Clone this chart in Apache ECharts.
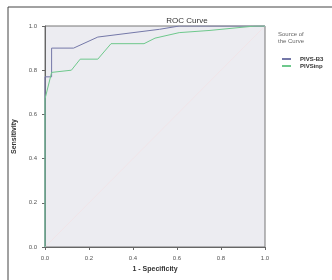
<!DOCTYPE html>
<html>
<head>
<meta charset="utf-8">
<script src="https://cdn.jsdelivr.net/npm/echarts@6/dist/echarts.min.js"></script>
<style>
  html, body { margin: 0; padding: 0; background: #fff; }
  #chart { width: 332px; height: 280px; }
</style>
</head>
<body>
<div id="chart"></div>
<script>
// ROC 曲线数据 [1 - specificity, sensitivity]
const seriesNames = ['PIVS-B3', 'PIVSinp']
const curveB3 = [[0, 0], [0, 0.77], [0.03, 0.77], [0.03, 0.90], [0.13, 0.90], [0.24, 0.95],
  [0.40, 0.97], [0.52, 0.985], [0.61, 1.0], [1, 1]]
const curveInp = [[0, 0], [0, 0.67], [0.03, 0.79], [0.12, 0.80], [0.16, 0.85], [0.24, 0.85],
  [0.30, 0.92], [0.45, 0.92], [0.50, 0.945], [0.61, 0.97], [0.75, 0.98], [0.955, 1.0], [1, 1]]
const diagonal = [[0, 0], [1, 1]]
const tickLabels = ['0.0', '0.2', '0.4', '0.6', '0.8', '1.0']

const chart = echarts.init(document.getElementById('chart'))
const axisCommon = {
  type: 'value',
  min: 0,
  max: 1,
  interval: 0.2,
  splitLine: { show: false },
  axisLine: { show: true, lineStyle: { color: '#666', width: 1 } },
  axisTick: { show: true, length: 3, lineStyle: { color: '#666' } },
  axisLabel: {
    fontSize: 6,
    color: '#555',
    formatter: v => tickLabels[Math.round(v * 5)]
  },
  nameLocation: 'middle',
  nameTextStyle: { fontSize: 7, fontWeight: 'bold', color: '#333' }
}
const option = {
  animation: false,
  title: {
    text: 'ROC Curve',
    left: 182,
    textAlign: 'center',
    top: 12,
    textStyle: { fontSize: 8, fontWeight: 'normal', color: '#333' }
  },
  graphic: [
    {
      type: 'rect',
      shape: { x: 8, y: 7, width: 340, height: 290 },
      style: { fill: 'none', stroke: '#444', lineWidth: 1 }
    },
    {
      type: 'text',
      left: 278,
      top: 31,
      style: { text: 'Source of\nthe Curve', fontSize: 6, lineHeight: 7, fill: '#666' }
    }
  ],
  legend: {
    orient: 'vertical',
    left: 277,
    top: 51,
    itemWidth: 9,
    itemHeight: 2,
    itemGap: 1,
    icon: 'rect',
    data: seriesNames,
    textStyle: { fontSize: 6, fontWeight: 'bold', color: '#333', padding: [0, 0, 0, 4] }
  },
  grid: {
    left: 45,
    top: 26,
    width: 220,
    height: 221,
    show: true,
    backgroundColor: '#ececf1',
    borderColor: '#777',
    borderWidth: 1
  },
  xAxis: Object.assign({}, axisCommon, { name: '1 - Specificity', nameGap: 15 }),
  yAxis: Object.assign({}, axisCommon, { name: 'Sensitivity', nameGap: 20 }),
  series: [
    {
      name: 'Reference',
      type: 'line',
      data: diagonal,
      symbol: 'none',
      silent: true,
      lineStyle: { color: '#f1e4e8', width: 1 }
    },
    {
      name: seriesNames[0],
      type: 'line',
      data: curveB3,
      symbol: 'none',
      lineStyle: { color: '#7478a8', width: 1 },
      itemStyle: { color: '#7478a8' }
    },
    {
      name: seriesNames[1],
      type: 'line',
      data: curveInp,
      symbol: 'none',
      lineStyle: { color: '#6ec88c', width: 1 },
      itemStyle: { color: '#6ec88c' }
    }
  ]
}
chart.setOption(option)
</script>
</body>
</html>
